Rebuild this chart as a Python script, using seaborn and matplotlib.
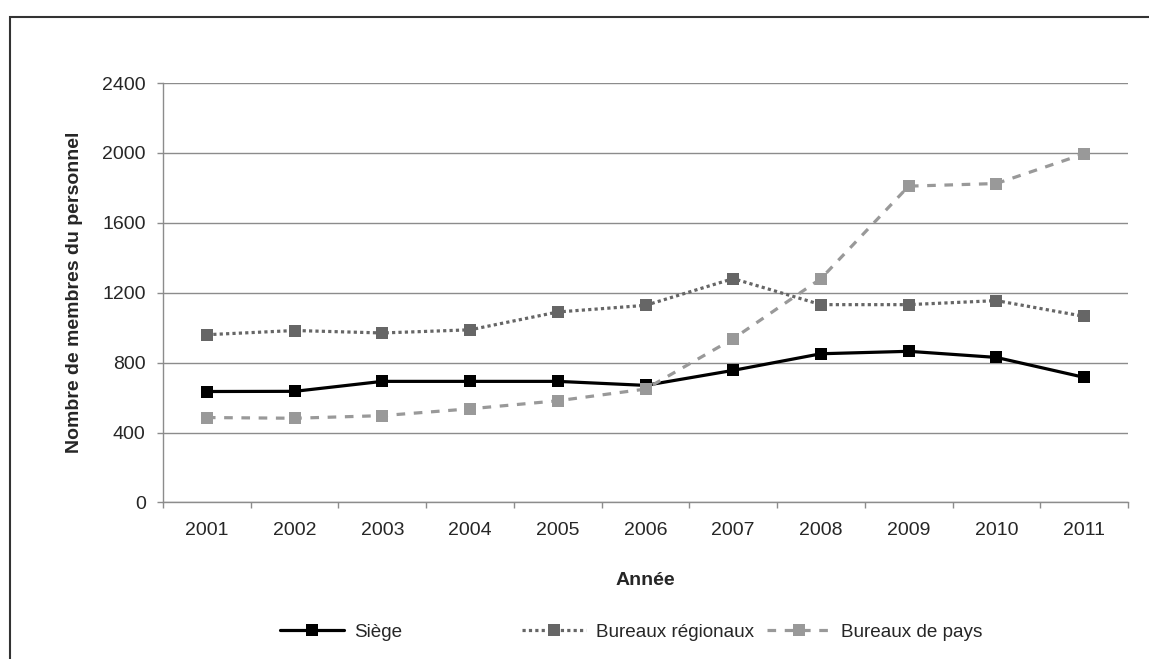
import numpy as np
import pandas as pd
import seaborn as sns
import matplotlib.pyplot as plt
from matplotlib.patches import Rectangle
from matplotlib.ticker import FixedLocator

years = ['2001', '2002', '2003', '2004', '2005', '2006', '2007', '2008', '2009', '2010', '2011']
siege = [635, 636, 693, 693, 693, 670, 756, 851, 865, 830, 716]
bureaux_regionaux = [960, 984, 970, 988, 1090, 1128, 1281, 1132, 1132, 1155, 1065]
bureaux_pays = [486, 482, 497, 536, 582, 649, 937, 1281, 1810, 1825, 1995]
series_names = ['Siège', 'Bureaux régionaux', 'Bureaux de pays']
yticks = [0, 400, 800, 1200, 1600, 2000, 2400]

df = pd.DataFrame({
    'Année': years * 3,
    'valeur': siege + bureaux_regionaux + bureaux_pays,
    'serie': np.repeat(series_names, len(years)),
})

sns.set_style('white')
plt.rcParams['font.family'] = ['Liberation Sans', 'DejaVu Sans']

fig = plt.figure(figsize=(11.49, 6.59), dpi=100)
ax = fig.add_axes([0.1419, 0.2375, 0.8398, 0.6365])

palette = {'Siège': '#000000', 'Bureaux régionaux': '#666666', 'Bureaux de pays': '#999999'}
dashes = {'Siège': '', 'Bureaux régionaux': (1, 1), 'Bureaux de pays': (2.7, 2.7)}
markers = {'Siège': 's', 'Bureaux régionaux': 's', 'Bureaux de pays': 's'}

sns.lineplot(data=df, x='Année', y='valeur', hue='serie', style='serie',
             hue_order=series_names, style_order=series_names,
             palette=palette, dashes=dashes, markers=markers,
             linewidth=2.3, markersize=8.8, markeredgewidth=0,
             legend=False, ax=ax, zorder=3)

ax.set_xlim(-0.5, len(years) - 0.5)
ax.set_ylim(0, 2400)
ax.set_yticks(yticks)
ax.yaxis.grid(True, color='#8c8c8c', linewidth=1)
ax.xaxis.grid(False)
for s in ['top', 'right']:
    ax.spines[s].set_visible(False)
for s in ['left', 'bottom']:
    ax.spines[s].set_color('#8c8c8c')
    ax.spines[s].set_linewidth(1)

ax.tick_params(axis='y', which='major', left=True, length=4.5, width=1,
               color='#8c8c8c', pad=8, labelsize=14)
ax.tick_params(axis='x', which='major', bottom=False, length=0, pad=14, labelsize=14)
ax.xaxis.set_minor_locator(FixedLocator(np.arange(-0.5, len(years), 1)))
ax.tick_params(axis='x', which='minor', bottom=True, length=4, width=1, color='#8c8c8c')

ax.set_xlabel('Année', fontsize=14, fontweight='bold', labelpad=24)
ax.set_ylabel('Nombre de membres du personnel', fontsize=14, fontweight='bold', labelpad=14)

# Excel-style legend: equally spaced entries
legend_x = [280, 522, 767]
for line, name, lx in zip(ax.lines[:3], series_names, legend_x):
    fig.legend(handles=[line], labels=[name], loc='center left',
               bbox_to_anchor=(lx / 1149, 1 - 632 / 659), frameon=False,
               fontsize=13.6, handlelength=3.4, handletextpad=0.5,
               borderpad=0, borderaxespad=0)

fig.patches.append(Rectangle((10 / 1149, -0.1), 1.2, 1 - 17 / 659 + 0.1,
                             transform=fig.transFigure, fill=False,
                             edgecolor='#333333', linewidth=1.5))

fig.savefig('out.png', dpi=100)
